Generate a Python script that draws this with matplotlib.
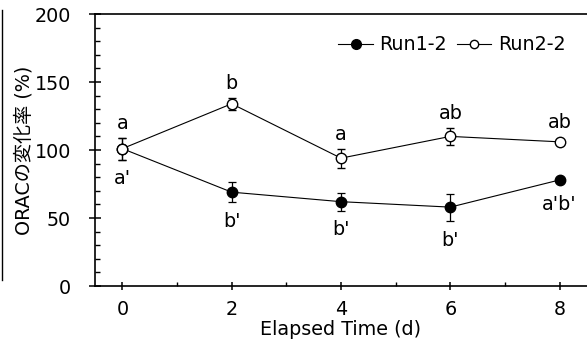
import matplotlib
matplotlib.use("Agg")
import matplotlib.pyplot as plt
from matplotlib.lines import Line2D
from matplotlib.ticker import MultipleLocator

plt.rcParams['font.family'] = ['DejaVu Sans', 'Noto Sans CJK JP']

days = [0, 2, 4, 6, 8]
run1 = [101, 69, 62, 58, 78]
run1_err = [8, 7.5, 6.5, 10, 1]
run2 = [101, 134, 94, 110, 106]
run2_err = [8, 4.5, 7, 6.5, 1]
run1_letters = ["a'", "b'", "b'", "b'", "a'b'"]
run2_letters = ["a", "b", "a", "ab", "ab"]

fs = 13.8
ms = 7.5

fig = plt.figure(figsize=(5.87, 3.42), dpi=100)
ax = fig.add_axes([95 / 587, 1 - 286 / 342, 1 - 95 / 587, (286 - 14) / 342])

ax.errorbar(days, run1, yerr=run1_err, color='black', lw=0.8, marker='o',
            ms=ms, mfc='black', mec='black', capsize=3, elinewidth=0.9,
            capthick=0.9, zorder=3)
ax.errorbar(days, run2, yerr=run2_err, color='black', lw=0.8, marker='o',
            ms=ms, mfc='white', mec='black', mew=1.0, capsize=3,
            elinewidth=0.9, capthick=0.9, zorder=4)

ax.set_xlim(-0.5, 8.5)
ax.set_ylim(0, 200)

# points per y unit, so letters clear both the error bar and the marker
pt_per_unit = fig.get_figheight() * 72 * ax.get_position().height / 200


def clearance(e):
    return max(e * pt_per_unit, ms / 2)


# significance letters above the open series, below the filled one
for x, v, e, t in zip(days, run2, run2_err, run2_letters):
    ax.annotate(t, (x, v), xytext=(0, clearance(e) + 10),
                textcoords='offset points', ha='center', va='center',
                fontsize=fs)
for x, v, e, t in zip(days, run1, run1_err, run1_letters):
    ax.annotate(t, (x, v), xytext=(0, -clearance(e) - 14),
                textcoords='offset points', ha='center', va='center',
                fontsize=fs)

ax.xaxis.set_major_locator(MultipleLocator(2))
ax.xaxis.set_minor_locator(MultipleLocator(1))
ax.yaxis.set_major_locator(MultipleLocator(50))
ax.yaxis.set_minor_locator(MultipleLocator(10))

ax.tick_params(axis='y', which='major', direction='inout', length=8.6,
               width=1.1, pad=13, labelsize=fs)
ax.tick_params(axis='y', which='minor', direction='in', length=3.6, width=1.0)
ax.tick_params(axis='x', which='major', direction='inout', length=6,
               width=1.1, pad=7, labelsize=fs)
ax.tick_params(axis='x', which='minor', direction='in', length=3, width=1.0)

for side in ['left', 'bottom', 'top']:
    ax.spines[side].set_linewidth(1.2)
ax.spines['right'].set_visible(False)

ax.set_xlabel('Elapsed Time (d)', fontsize=fs, labelpad=1)
ax.set_ylabel('ORACの変化率 (%)', fontsize=fs)
ax.yaxis.set_label_coords(-0.126, 0.5)

handles = [
    Line2D([], [], color='black', lw=0.8, marker='o', ms=7, mfc='black', mec='black'),
    Line2D([], [], color='black', lw=0.8, marker='o', ms=6, mfc='white', mec='black'),
]
ax.legend(handles, ['Run1-2', 'Run2-2'], loc='center',
          bbox_to_anchor=(452 / 587, 1 - 45 / 342),
          bbox_transform=fig.transFigure, ncol=2, frameon=False,
          fontsize=fs, handlelength=1.8, handletextpad=0.35,
          columnspacing=0.5, borderpad=0)

fig.add_artist(Line2D([2 / 587, 2 / 587], [1 - 280 / 342, 1 - 10 / 342],
                      color='black', lw=1.0))

fig.savefig('out.png', dpi=100)
